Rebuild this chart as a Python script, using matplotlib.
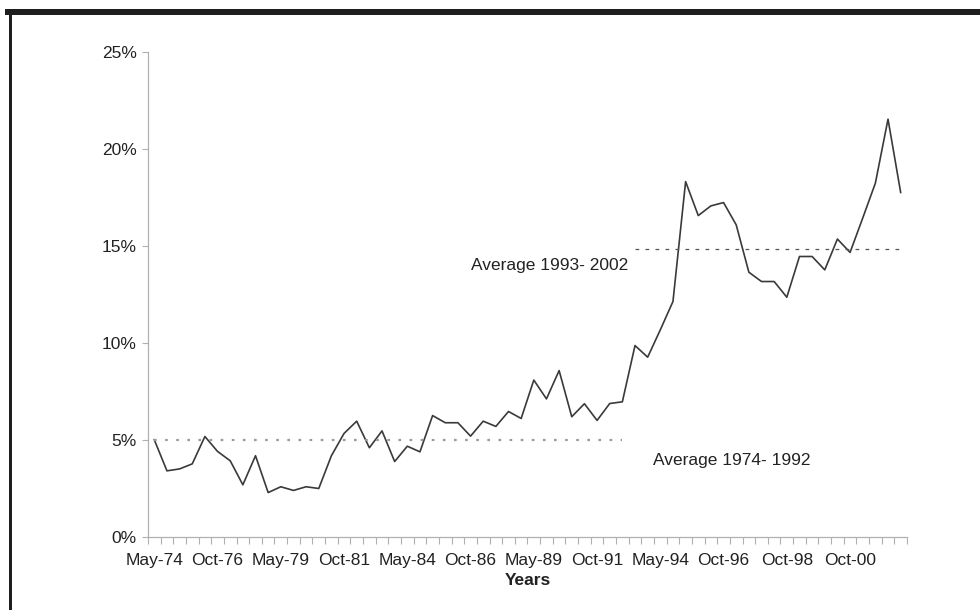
import matplotlib
matplotlib.use("Agg")
import numpy as np
from matplotlib import pyplot as plt
from matplotlib.patches import Rectangle

plt.rcParams['font.family'] = ['Liberation Sans', 'DejaVu Sans']

# semi-annual observations, in percent
values = [5.0, 3.4, 3.5, 3.76, 5.17, 4.4, 3.92, 2.68, 4.18, 2.28,
          2.58, 2.39, 2.58, 2.49, 4.18, 5.33, 5.96, 4.59, 5.46, 3.88,
          4.67, 4.38, 6.25, 5.88, 5.88, 5.19, 5.96, 5.69, 6.46, 6.1,
          8.08, 7.11, 8.57, 6.19, 6.86, 6.0, 6.87, 6.96, 9.86, 9.26,
          10.67, 12.13, 18.31, 16.56, 17.06, 17.23, 16.08, 13.64, 13.16, 13.16,
          12.35, 14.45, 14.45, 13.76, 15.35, 14.66, 16.43, 18.23, 21.53, 17.75]
tick_labels = ["May-74", "Oct-76", "May-79", "Oct-81", "May-84", "Oct-86",
               "May-89", "Oct-91", "May-94", "Oct-96", "Oct-98", "Oct-00"]
avg_labels = ["Average 1974- 1992", "Average 1993- 2002"]
avg_values = [5.0, 14.83]
avg_ranges = [(0, 37), (38, 59)]

x = np.arange(len(values))
fs = 12.5

fig = plt.figure(figsize=(9.8, 6.1), dpi=100)
ax = fig.add_axes([0.151, 0.12, 0.7745, 0.795])

ax.plot(x, values, color='#3a3a3a', lw=1.2)

# average lines
ax.plot(avg_ranges[0], [avg_values[0]] * 2, color='#9a9a9a', lw=1.6,
        linestyle=(0, (1.2, 3.8)))
ax.plot(avg_ranges[1], [avg_values[1]] * 2, color='#555555', lw=0.9,
        linestyle=(0, (3, 5)))
ax.text(39.4, 3.95, avg_labels[0], fontsize=fs, ha='left', va='center',
        color='#222222')
ax.text(37.45, 14.0, avg_labels[1], fontsize=fs, ha='right', va='center',
        color='#222222')

ax.set_xlim(-0.5, len(values) - 0.5)
ax.set_ylim(0, 25)
ax.set_yticks([0, 5, 10, 15, 20, 25])
ax.set_yticklabels([f"{v}%" for v in [0, 5, 10, 15, 20, 25]])

ax.set_xticks(x[::5])
ax.set_xticklabels(tick_labels)
ax.set_xticks(np.arange(-0.5, len(values)), minor=True)
ax.tick_params(axis='x', which='major', length=0, pad=12, labelsize=fs,
               labelcolor='#222222')
ax.tick_params(axis='x', which='minor', length=5, width=0.8, color='#b0b0b0')
ax.tick_params(axis='y', which='major', length=4, width=0.8, color='#b0b0b0',
               labelsize=fs, labelcolor='#222222', pad=4)

for side in ['top', 'right']:
    ax.spines[side].set_visible(False)
for side in ['left', 'bottom']:
    ax.spines[side].set_color('#b0b0b0')
    ax.spines[side].set_linewidth(0.9)

ax.set_xlabel("Years", fontsize=fs, fontweight='bold', color='#222222',
              labelpad=3)

# black frame at top and left edge
fig.add_artist(Rectangle((5 / 980, 1 - 15 / 610), 975 / 980, 6 / 610,
                         transform=fig.transFigure, color='#1e1e1e', lw=0))
fig.add_artist(Rectangle((9 / 980, 0), 3 / 980, 1 - 9 / 610,
                         transform=fig.transFigure, color='#1e1e1e', lw=0))

plt.savefig('out.png', dpi=100)
